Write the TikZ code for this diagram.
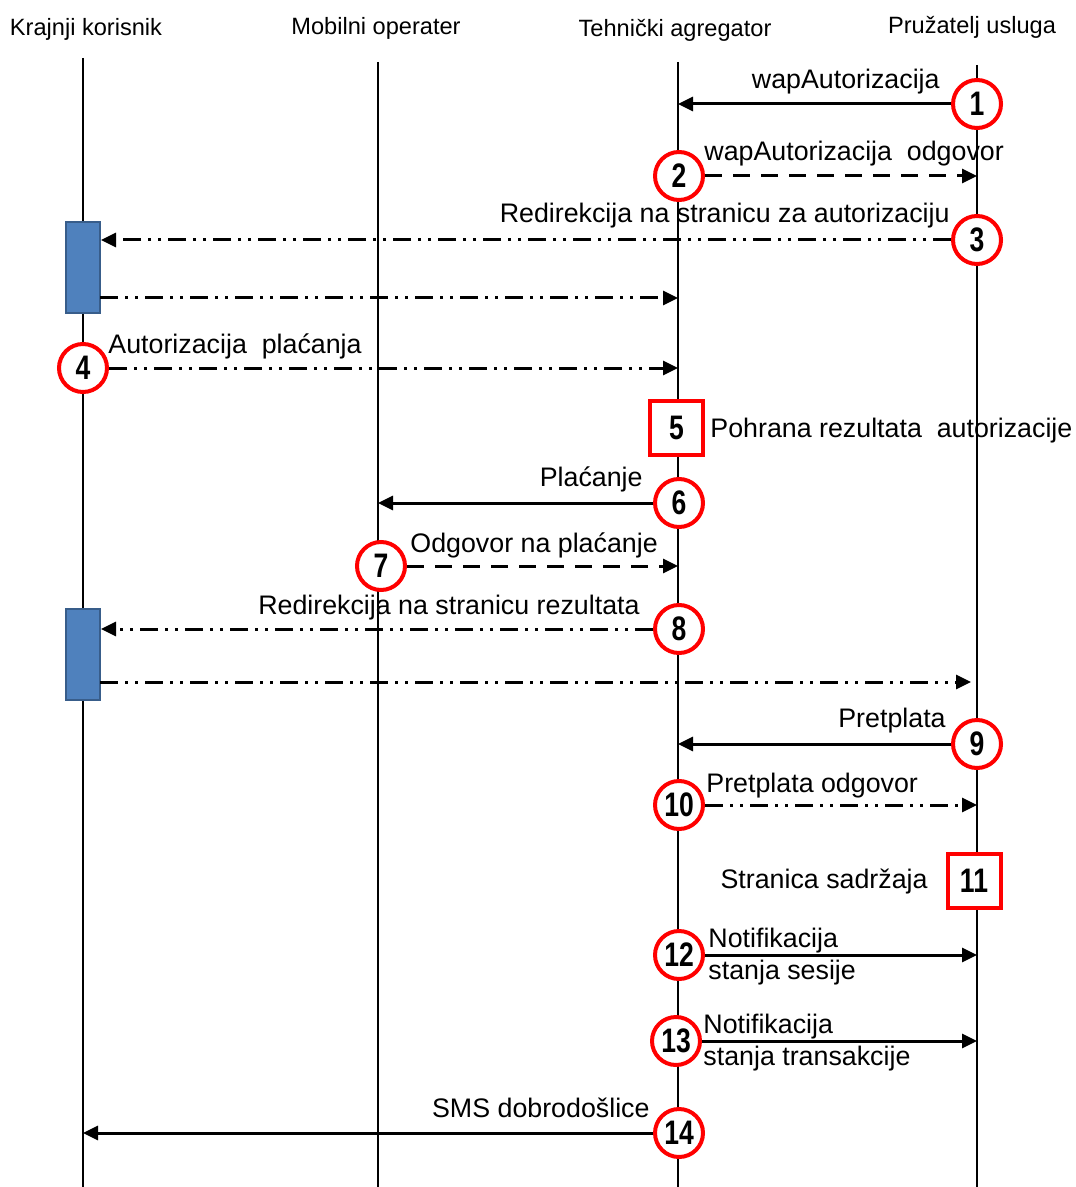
\documentclass[tikz,border=0pt]{standalone}
\usepackage{fontspec}
\setmainfont{Liberation Sans}
\newfontfamily\numfont[FakeStretch=0.78]{Liberation Sans}
\usetikzlibrary{arrows.meta}
\definecolor{boxblue}{HTML}{4F81BD}
\definecolor{boxedge}{HTML}{385D8A}
\tikzset {
  x=0.5pt, y=-0.5pt,
  % lifelines and their headings
  life/.style={line width=1pt},
  head/.style={font=\fontsize{11.8}{14}\selectfont, inner sep=0pt},
  % numbered steps
  num/.style={draw=red, line width=2pt, circle, fill=white, minimum size=24pt,
    inner sep=0pt, font=\numfont\bfseries\fontsize{17}{17}\selectfont},
  numbox/.style={draw=red, line width=2pt, rectangle, fill=white, minimum width=26.5pt,
    minimum height=27pt, inner sep=0pt, font=\numfont\bfseries\fontsize{17}{17}\selectfont},
  % activation bars
  act/.style={draw=boxedge, line width=1pt, fill=boxblue, minimum width=17pt,
    minimum height=45.5pt, inner sep=0pt},
  % messages
  msg/.style={line width=1.5pt, -{Triangle[length=7.5pt,width=7pt]}},
  reply/.style={msg, dash pattern=on 8.5pt off 5.5pt},
  redirect/.style={msg, dash pattern=on 9pt off 3.5pt on 1.5pt off 3.5pt on 1.5pt off 3.5pt},
  lbl/.style={font=\fontsize{13.4}{16}\selectfont, inner sep=0pt},
}
\begin{document}
\begin{tikzpicture}
  \useasboundingbox (0,0) rectangle (1075,1187);

  % lifelines
  \coordinate (kor) at (83,58);
  \coordinate (mob) at (378,62);
  \coordinate (agr) at (678,62);
  \coordinate (pru) at (977,65);
  \draw[life] (kor) -- (kor |- 0,1187);
  \draw[life] (mob) -- (mob |- 0,1187);
  \draw[life] (agr) -- (agr |- 0,1187);
  \draw[life] (pru) -- (pru |- 0,1187);

  \node[head, anchor=base] (hkor) at (86,36) {Krajnji korisnik};
  \node[head, anchor=base] (hmob) at (376,35) {Mobilni operater};
  \node[head, anchor=base] (hagr) at (675,37) {Tehnički agregator};
  \node[head, anchor=base] (hpru) at (972,34) {Pružatelj usluga};

  \node[act] (act1) at (83,267.5) {};
  \node[act] (act2) at (83,654) {};

  % steps
  \node[num] (c1) at (977,104) {1};
  \node[num] (c2) at (679,176) {2};
  \node[num] (c3) at (977,240) {3};
  \node[num] (c4) at (83,368) {4};
  \node[numbox] (b5) at (676.5,428) {5};
  \node[num] (c6) at (679,503) {6};
  \node[num] (c7) at (381,566) {7};
  \node[num] (c8) at (679,629) {8};
  \node[num] (c9) at (977,744) {9};
  \node[num] (c10) at (679,805) {10};
  \node[numbox] (b11) at (974,881) {11};
  \node[num] (c12) at (679,955) {12};
  \node[num] (c13) at (676,1041) {13};
  \node[num] (c14) at (679,1133) {14};

  \coordinate (ret1) at (100,298);
  \coordinate (ret2) at (100,682);

  \draw[msg] (c1) -- (c1 -| agr);
  \draw[reply] (c2) -- (c2 -| pru);
  \draw[redirect] (c3) -- (c3 -| act1.east);
  \draw[redirect] (ret1) -- (ret1 -| agr);
  \draw[redirect] (c4) -- (c4 -| agr);
  \draw[msg] (c6) -- (c6 -| mob);
  \draw[reply] (c7) -- (c7 -| agr);
  \draw[redirect] (c8) -- (c8 -| act2.east);
  \draw[redirect, shorten >=3pt] (ret2) -- (ret2 -| pru);
  \draw[msg] (c9) -- (c9 -| agr);
  \draw[redirect] (c10) -- (c10 -| pru);
  \draw[msg] (c12) -- (c12 -| pru);
  \draw[msg] (c13) -- (c13 -| pru);
  \draw[msg] (c14) -- (c14 -| kor);

  % message texts
  \node[lbl, anchor=base east] (l1) at (940,89) {wapAutorizacija};
  \node[lbl, anchor=base west] (l2) at (704,161) {wapAutorizacija~~odgovor};
  \node[lbl, anchor=base east] (l3) at (950,223) {Redirekcija~na~stranicu~za~autorizaciju};
  \node[lbl, anchor=base west] (l4) at (108,353) {Autorizacija~~plaćanja};
  \node[lbl, anchor=base west] (l5) at (710,437) {Pohrana rezultata~~autorizacije};
  \node[lbl, anchor=base east] (l6) at (643,486) {Plaćanje};
  \node[lbl, anchor=base west] (l7) at (410,552) {Odgovor na plaćanje};
  \node[lbl, anchor=base east] (l8) at (640,614) {Redirekcija na stranicu rezultata};
  \node[lbl, anchor=base east] (l9) at (946,727) {Pretplata};
  \node[lbl, anchor=base west] (l10) at (706,792) {Pretplata odgovor};
  \node[lbl, anchor=base east] (l11) at (928,888) {Stranica sadržaja};
  \node[lbl, anchor=west, align=left] (l12) at (708,957) {Notifikacija\\stanja sesije};
  \node[lbl, anchor=west, align=left] (l13) at (703,1043) {Notifikacija\\stanja transakcije};
  \node[lbl, anchor=base east] (l14) at (650,1117) {SMS dobrodošlice};
\end{tikzpicture}
\end{document}
